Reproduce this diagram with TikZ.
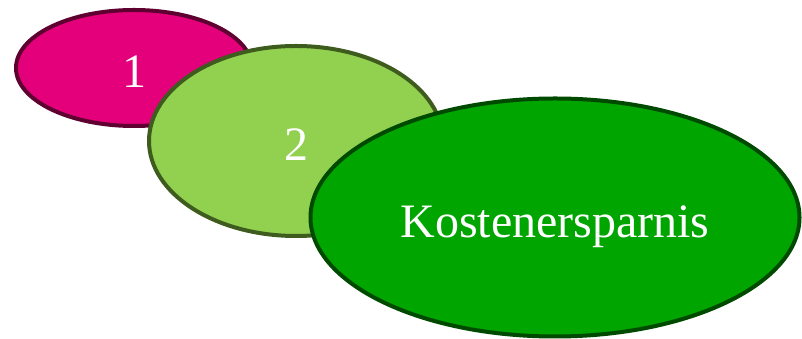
\documentclass[tikz,border=0pt]{standalone}
\usepackage{fontspec}
\setmainfont{Liberation Serif}
\usetikzlibrary{shapes.geometric}
\definecolor{pinkfill}{HTML}{E4007A}
\definecolor{pinkline}{HTML}{5E0030}
\definecolor{lgfill}{HTML}{92D050}
\definecolor{lgline}{HTML}{3E5C1E}
\definecolor{dgfill}{HTML}{00A500}
\definecolor{dgline}{HTML}{004A00}
\tikzset{
  blob/.style={ellipse, inner sep=0pt, line width=4pt, text=white,
    font=\fontsize{48}{52}\selectfont, text height=40pt, text depth=0pt},
}
\begin{document}
\begin{tikzpicture}[x=1pt,y=1pt]
\useasboundingbox (0,0) rectangle (802,339);
\node[blob, draw=pinkline, fill=pinkfill, minimum width=236pt, minimum height=116pt] (a) at (134,271) {1};
\node[blob, draw=lgline, fill=lgfill, minimum width=294pt, minimum height=190pt] (b) at (296,198) {2};
\node[blob, draw=dgline, fill=dgfill, minimum width=489pt, minimum height=238pt] (c) at (555,121.5) {Kostenersparnis};
\end{tikzpicture}
\end{document}
